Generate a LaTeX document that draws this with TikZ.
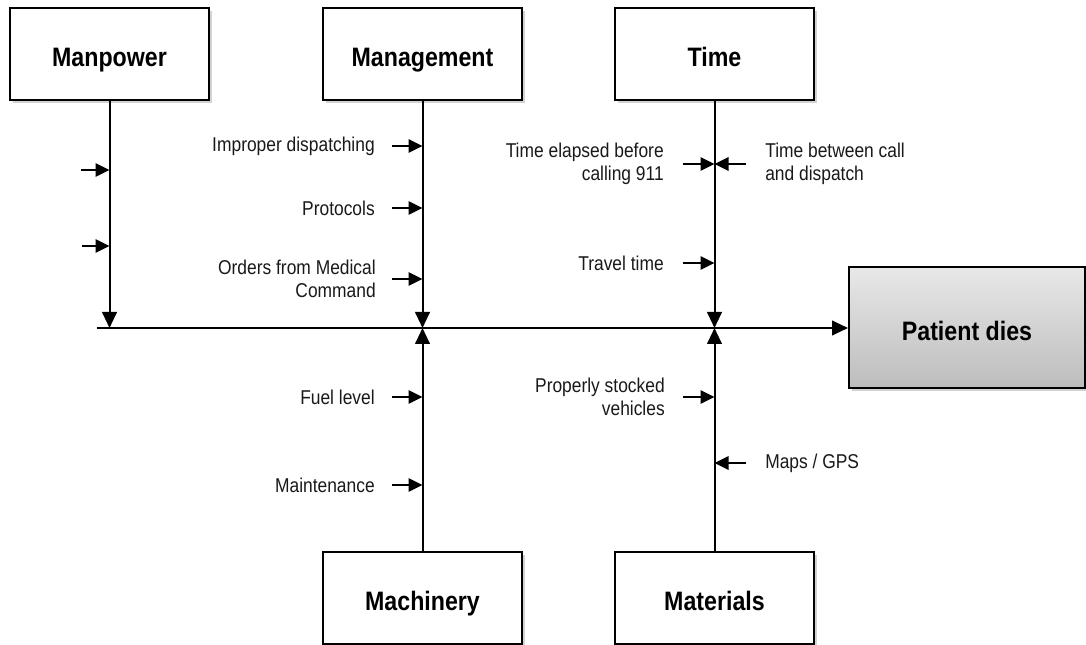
\documentclass[tikz,border=0pt]{standalone}
\usepackage{fontspec}
\setmainfont{Liberation Sans}[FakeStretch=0.87]
\newfontfamily\hdfont{Liberation Sans}[FakeStretch=0.87]
\usetikzlibrary{arrows.meta,shadows}
\begin{document}
\begin{tikzpicture}[x=0.75pt,y=-0.75pt,
  catbox/.style={draw=black,line width=1.5pt,fill=white,minimum width=149pt,minimum height=69pt,
    inner sep=0pt,text height=20pt,text depth=1.2pt,
    font=\hdfont\bfseries\fontsize{20}{22}\selectfont,
    drop shadow={shadow xshift=2pt,shadow yshift=-2.5pt,fill=black!35,opacity=0.5}},
  effectbox/.style={catbox,minimum width=177pt,minimum height=90.5pt,
    top color=black!9,bottom color=black!26},
  lbl/.style={inner sep=0pt,font=\fontsize{15}{17}\selectfont,text=black!90},
  spine/.style={line width=1.5pt,-{Triangle[length=12pt,width=11pt]}},
  sidearrow/.style={line width=1.5pt,-{Triangle[length=10.5pt,width=10pt]}}]
\useasboundingbox (0,0) rectangle (1086,645);

% category boxes
\node[catbox] (mp) at (109.5,54) {Manpower};
\node[catbox] (mg) at (422.5,54) {Management};
\node[catbox] (tm) at (714.5,54) {Time};
\node[catbox] (mc) at (422.5,598) {Machinery};
\node[catbox] (mt) at (714.5,598) {Materials};
\node[effectbox] (pd) at (967,327.5) {Patient dies};

% main line
\coordinate (s) at (97,328);
\draw[spine] (s) -- (s -| pd.west);

% spines
\draw[spine] (mp.south) -- (mp.south |- s);
\draw[spine] (mg.south) -- (mg.south |- s);
\draw[spine] (tm.south) -- (tm.south |- s);
\draw[spine] (mc.north) -- (mc.north |- s);
\draw[spine] (mt.north) -- (mt.north |- s);

% Manpower causes (unlabelled)
\coordinate (a1) at (81,170);
\coordinate (a2) at (82,246);
\draw[sidearrow] (a1) -- (a1 -| mp.south);
\draw[sidearrow] (a2) -- (a2 -| mp.south);

% Management causes
\node[lbl,anchor=east] (l1) at (375,146) {Improper dispatching};
\node[lbl,anchor=east] (l2) at (375,208) {Protocols};
\node[lbl,anchor=east,align=right] (l3) at (376,279) {Orders from Medical\\Command};
\draw[sidearrow] ([xshift=12.5pt]l1.east) -- (l1.east -| mg.south);
\draw[sidearrow] ([xshift=12.5pt]l2.east) -- (l2.east -| mg.south);
\draw[sidearrow] ([xshift=12pt]l3.east) -- (l3.east -| mg.south);

% Time causes
\node[lbl,anchor=east,align=right] (t1) at (664,164) {Time elapsed before\\calling 911};
\node[lbl,anchor=west,align=left] (t2) at (765,164) {Time between call\\and dispatch};
\node[lbl,anchor=east] (t3) at (664,263) {Travel time};
\draw[sidearrow] ([xshift=14pt]t1.east) -- (t1.east -| tm.south);
\draw[sidearrow] ([xshift=-14pt]t2.west) -- (t2.west -| tm.south);
\draw[sidearrow] ([xshift=14pt]t3.east) -- (t3.east -| tm.south);

% Machinery causes
\node[lbl,anchor=east] (m1) at (375,397) {Fuel level};
\node[lbl,anchor=east] (m2) at (375,485) {Maintenance};
\draw[sidearrow] ([xshift=12.5pt]m1.east) -- (m1.east -| mc.north);
\draw[sidearrow] ([xshift=12.5pt]m2.east) -- (m2.east -| mc.north);

% Materials causes
\node[lbl,anchor=east,align=right] (r1) at (665,397) {Properly stocked\\vehicles};
\node[lbl,anchor=west] (r2) at (765,463) {Maps / GPS};
\draw[sidearrow] ([xshift=13.5pt]r1.east) -- (r1.east -| mt.north);
\draw[sidearrow] ([xshift=-14pt]r2.west) -- (r2.west -| mt.north);
\end{tikzpicture}
\end{document}
